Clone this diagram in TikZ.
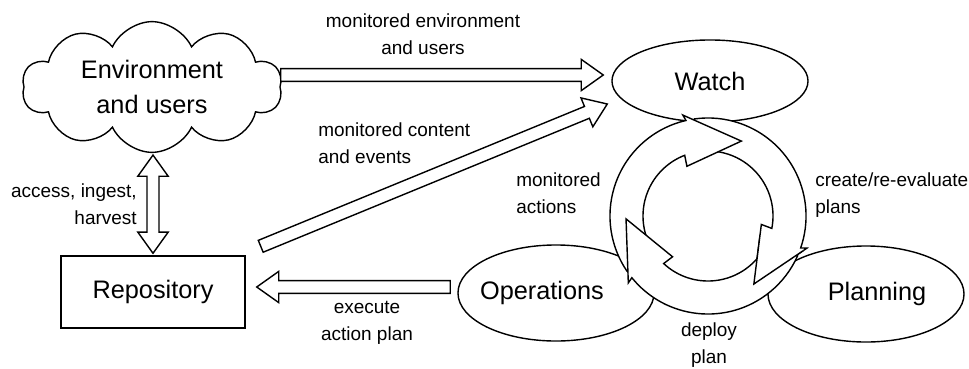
\documentclass[tikz,border=0pt]{standalone}
\usepackage{fontspec}
\setmainfont{Liberation Sans}
\usetikzlibrary{calc,positioning,shapes.geometric,shapes.symbols}

% hollow block arrow from #1 (tail) to #2 (tip)
\newcommand{\fatarrow}[2]{%
  \coordinate (fa-h) at ($(#2)!0.55cm!(#1)$);
  \draw[blockarr] ($(#1)!0.16cm!90:(#2)$) -- ($(fa-h)!0.16cm!-90:(#1)$)
    -- ($(fa-h)!0.39cm!-90:(#1)$) -- (#2) -- ($(fa-h)!0.39cm!90:(#1)$)
    -- ($(fa-h)!0.16cm!90:(#1)$) -- ($(#1)!0.16cm!-90:(#2)$) -- cycle;
}
% hollow block arrow with two heads
\newcommand{\fatdarrow}[2]{%
  \coordinate (fa-h1) at ($(#1)!0.53cm!(#2)$);
  \coordinate (fa-h2) at ($(#2)!0.53cm!(#1)$);
  \draw[blockarr] (#1) -- ($(fa-h1)!0.38cm!90:(#2)$) -- ($(fa-h1)!0.15cm!90:(#2)$)
    -- ($(fa-h2)!0.15cm!-90:(#1)$) -- ($(fa-h2)!0.38cm!-90:(#1)$) -- (#2)
    -- ($(fa-h2)!0.38cm!90:(#1)$) -- ($(fa-h2)!0.15cm!90:(#1)$)
    -- ($(fa-h1)!0.15cm!-90:(#2)$) -- ($(fa-h1)!0.38cm!-90:(#2)$) -- cycle;
}
% curved arrow of the cycle: tip angle #1, tail angle #2
\newcommand{\cycarrow}[2]{%
  \draw[ringarr] ($(cyc)+(#1:2.05cm)$) -- ($(cyc)+({#1+38}:2.6cm)$)
    -- ($(cyc)+({#1+37}:2.45cm)$) arc[start angle={#1+37}, end angle=#2, radius=2.45cm]
    -- ($(cyc)+(#2:1.625cm)$) arc[start angle=#2, end angle={#1+45}, radius=1.625cm]
    -- ($(cyc)+({#1+47}:1.35cm)$) -- cycle;
}

\begin{document}
\begin{tikzpicture}[
  x=0.025cm, y=0.025cm,
  font=\fontsize{13.5}{19}\selectfont,
  big/.style={font=\fontsize{18}{25}\selectfont},
  oval/.style={draw,ellipse,line width=1pt,big,inner sep=0pt,minimum width=4.9cm,minimum height=2.4cm},
  cloudnode/.style={draw,cloud,cloud puffs=10,cloud puff arc=130,aspect=2.3,line width=1pt,big,align=center,minimum width=6.5cm,minimum height=2.85cm},
  boxnode/.style={draw,line width=1pt,big,minimum width=4.6cm,minimum height=1.8cm},
  lbl/.style={inner sep=0pt},
  blockarr/.style={draw,line width=1pt,fill=white,line join=miter},
  ringarr/.style={draw,line width=1pt,fill=white,line join=miter}
]
\useasboundingbox[fill=white] (0,0) rectangle (969,-369);

% ---- nodes ----
\node[cloudnode] (env) at (152,-87) {Environment\\and users};
\node[boxnode] (repo) at (153,-292) {Repository};
\node[oval,minimum height=2.05cm] (watch) at (710,-81) {Watch};
\node[oval] (ops)  at (556,-293) {\makebox[0pt]{Operations\hspace{0.7cm}}};
\node[oval] (plan) at (866,-294) {\makebox[0pt]{\hspace{0.55cm}Planning}};
\coordinate (cyc) at (708,-216);

% ---- cycle ----
\cycarrow{-56}{98}
\cycarrow{66}{214}
\cycarrow{182}{336}
\begin{scope}
  \clip (cyc) -- ($(cyc)+(-62:4cm)$) -- ($(cyc)+(-40:4cm)$) -- ($(cyc)+(-20:4cm)$) -- cycle;
  \cycarrow{-56}{98}
\end{scope}

% ---- block arrows ----
\coordinate (mon-tip)  at ($(watch.west)+(-8,6)$);
\coordinate (mon-tail) at (env.east |- mon-tip);
\fatarrow{mon-tail}{mon-tip}
\coordinate (cnt-tail) at ($(repo.north east)+(15,9)$);
\coordinate (cnt-tip)  at ($(watch.west)+(-4,-23)$);
\fatarrow{cnt-tail}{cnt-tip}
\coordinate (exe-tail) at ($(ops.west)+(-7,6)$);
\coordinate (exe-tip)  at ($(repo.east |- exe-tail)+(11,0)$);
\fatarrow{exe-tail}{exe-tip}
\coordinate (acc-top) at ($(repo.north |- env.south)+(0,-2)$);
\coordinate (acc-bot) at ($(repo.north)+(0,2)$);
\fatdarrow{acc-top}{acc-bot}

% ---- labels ----
\node[lbl,align=center] (l-mon) at (423,-34) {monitored environment\\and users};
\node[lbl,align=left,anchor=west] (l-cnt) at (318,-143) {monitored content\\and events};
\node[lbl,align=right,anchor=east] (l-acc) at (137,-204) {access, ingest,\\harvest};
\node[lbl,align=center] (l-exe) at (367,-323) {execute\\action plan};
\node[lbl,align=left,anchor=west] (l-act) at (516,-193) {monitored\\actions};
\node[lbl,align=left,anchor=west] (l-cre) at (815,-195) {create/re-evaluate\\plans};
\node[lbl,align=center] (l-dep) at (709,-345) {deploy\\plan};
\end{tikzpicture}
\end{document}
